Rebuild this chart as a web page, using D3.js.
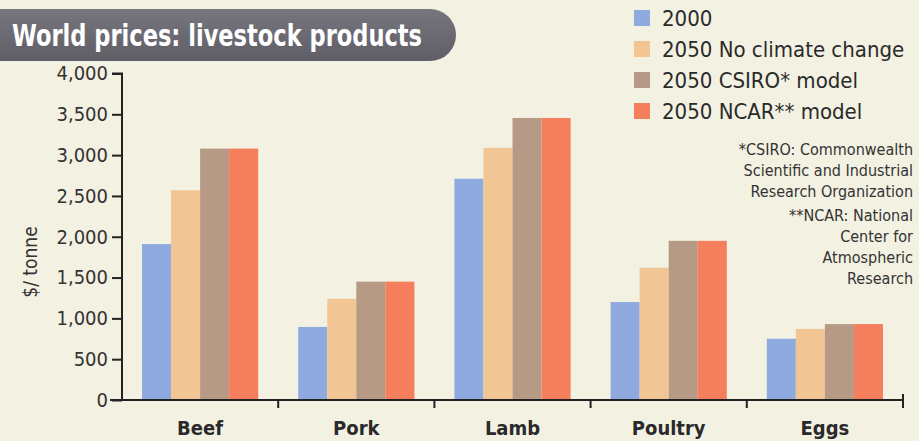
<!DOCTYPE html>
<html>
<head>
<meta charset="utf-8">
<script src="https://cdn.jsdelivr.net/npm/d3@7"></script>
<style>
  html, body { margin: 0; padding: 0; background: #f3f1e2; }
  svg { display: block; }
  text { font-family: "Liberation Sans Narrow", "DejaVu Sans Condensed", "Roboto Condensed", sans-serif; }
</style>
</head>
<body>
<script>
const categories = ["Beef", "Pork", "Lamb", "Poultry", "Eggs"];
const seriesNames = ["2000", "2050 No climate change", "2050 CSIRO* model", "2050 NCAR** model"];
const values2000 = [1910, 895, 2710, 1200, 750];
const valuesNoCC = [2570, 1240, 3090, 1620, 870];
const valuesCSIRO = [3080, 1450, 3455, 1950, 930];
const valuesNCAR = [3080, 1450, 3455, 1950, 930];
const seriesColors = ["#8eaadf", "#f2c595", "#b79a86", "#f57e5c"];
const yTicks = [0, 500, 1000, 1500, 2000, 2500, 3000, 3500, 4000];
const footnote1 = ["*CSIRO: Commonwealth", "Scientific and Industrial", "Research Organization"];
const footnote2 = ["**NCAR: National", "Center for", "Atmospheric", "Research"];

const W = 919, H = 441;
const seriesValues = [values2000, valuesNoCC, valuesCSIRO, valuesNCAR];

const svg = d3.select("body").append("svg").attr("width", W).attr("height", H);
svg.append("rect").attr("width", W).attr("height", H).attr("fill", "#f3f1e2");

// Title pill
const grad = svg.append("defs").append("linearGradient").attr("id", "pill").attr("x1", 0).attr("y1", 0).attr("x2", 0).attr("y2", 1);
grad.append("stop").attr("offset", "0%").attr("stop-color", "#77767e");
grad.append("stop").attr("offset", "100%").attr("stop-color", "#5f5e67");
svg.append("path")
  .attr("d", "M0,9 L430,9 A26,26 0 0 1 430,61 L0,61 Z")
  .attr("fill", "url(#pill)");
svg.append("text")
  .attr("x", 12).attr("y", 46)
  .attr("fill", "#ffffff")
  .attr("font-size", 31).attr("font-weight", "bold")
  .attr("textLength", 410).attr("lengthAdjust", "spacingAndGlyphs")
  .text("World prices: livestock products");

// Scales
const x0 = d3.scaleBand().domain(categories).range([122, 903]).padding(0);
const x1 = d3.scaleBand().domain(d3.range(seriesNames.length)).range([20, x0.bandwidth() - 20]).padding(0);
const y = d3.scaleLinear().domain([0, 4000]).range([400, 73.5]);

// Bars
const groups = svg.append("g").selectAll("g").data(categories).join("g")
  .attr("transform", d => `translate(${x0(d)},0)`);
groups.selectAll("rect")
  .data((d, i) => seriesValues.map((vals, s) => ({ s, v: vals[i] })))
  .join("rect")
  .attr("x", d => x1(d.s))
  .attr("width", x1.bandwidth())
  .attr("y", d => y(d.v))
  .attr("height", d => y(0) - y(d.v))
  .attr("fill", d => seriesColors[d.s]);

// Y axis
const yAxis = svg.append("g").attr("transform", "translate(122,0)")
  .call(d3.axisLeft(y).tickValues(yTicks).tickFormat(d3.format(",")).tickSize(10).tickPadding(4));
yAxis.select(".domain").attr("stroke", "#222").attr("stroke-width", 2).attr("d", `M-10,${y(4000)}H0V${y(0)}`);
yAxis.selectAll(".tick line").attr("stroke", "#222").attr("stroke-width", 2);
yAxis.selectAll(".tick text").attr("fill", "#333").attr("font-size", 20);

// X axis
const xAxis = svg.append("g").attr("transform", "translate(0,400)");
xAxis.append("line").attr("x1", 110).attr("x2", 903).attr("y1", 0).attr("y2", 0)
  .attr("stroke", "#222").attr("stroke-width", 2);
const boundaries = categories.map(c => x0(c) + x0.bandwidth());
xAxis.selectAll("line.sep").data(boundaries).join("line").attr("class", "sep")
  .attr("x1", d => d).attr("x2", d => d).attr("y1", (d, i) => i === boundaries.length - 1 ? -6 : 0).attr("y2", 8)
  .attr("stroke", "#222").attr("stroke-width", 2);
xAxis.selectAll("text").data(categories).join("text")
  .attr("x", d => x0(d) + x0.bandwidth() / 2)
  .attr("y", 35)
  .attr("text-anchor", "middle")
  .attr("font-size", 20).attr("font-weight", "bold").attr("fill", "#2a2a2a")
  .text(d => d);

// Y axis title
svg.append("text")
  .attr("transform", "translate(37,262) rotate(-90)")
  .attr("text-anchor", "middle")
  .attr("font-size", 19).attr("fill", "#333")
  .text("$/ tonne");

// Legend
const legend = svg.append("g").attr("transform", "translate(634,0)");
const rows = legend.selectAll("g").data(seriesNames).join("g")
  .attr("transform", (d, i) => `translate(0,${18 + i * 31})`);
rows.append("rect").attr("x", 0).attr("y", -8).attr("width", 16).attr("height", 16)
  .attr("fill", (d, i) => seriesColors[i]);
rows.append("text").attr("x", 28).attr("y", 8)
  .attr("font-size", 22).attr("fill", "#2a2a2a")
  .text(d => d);

// Footnotes
const fn = svg.append("g").attr("fill", "#333").attr("font-size", 16).attr("text-anchor", "end");
fn.selectAll("text.f1").data(footnote1).join("text").attr("class", "f1")
  .attr("x", 913).attr("y", (d, i) => 155 + i * 21).text(d => d);
fn.selectAll("text.f2").data(footnote2).join("text").attr("class", "f2")
  .attr("x", 913).attr("y", (d, i) => 221 + i * 21).text(d => d);
</script>
</body>
</html>
